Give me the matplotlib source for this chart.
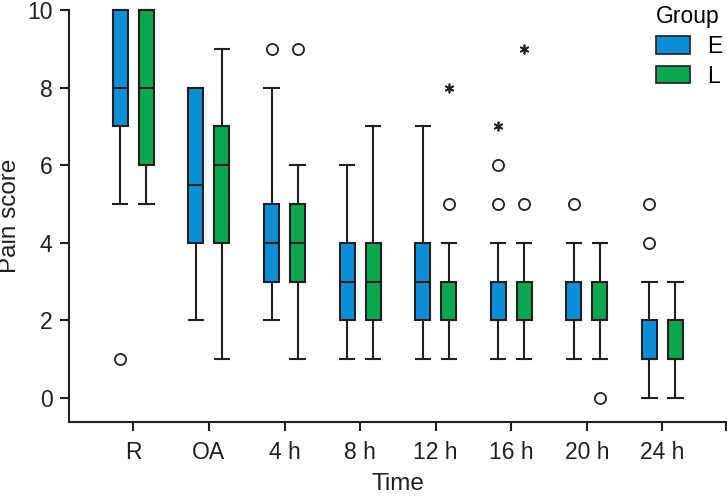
import matplotlib
matplotlib.use("Agg")
import matplotlib.pyplot as plt
from matplotlib.patches import Patch

plt.rcParams['font.family'] = ['Liberation Sans', 'DejaVu Sans']

times = ['R', 'OA', '4 h', '8 h', '12 h', '16 h', '20 h', '24 h']

# group E
e_low = [5, 2, 2, 1, 1, 1, 1, 0]
e_q1 = [7, 4, 3, 2, 2, 2, 2, 1]
e_med = [8, 5.5, 4, 3, 3, 2, 2, 1]
e_q3 = [10, 8, 5, 4, 4, 3, 3, 2]
e_high = [10, 8, 8, 6, 7, 4, 4, 3]
e_out = [[1], [], [9], [], [], [5, 6], [5], [4, 5]]
e_ext = [[], [], [], [], [], [7], [], []]

# group L
l_low = [5, 1, 1, 1, 1, 1, 1, 0]
l_q1 = [6, 4, 3, 2, 2, 2, 2, 1]
l_med = [8, 6, 4, 3, 2, 2, 2, 1]
l_q3 = [10, 7, 5, 4, 3, 3, 3, 2]
l_high = [10, 9, 6, 7, 4, 4, 4, 3]
l_out = [[], [], [9], [], [5], [5], [0], []]
l_ext = [[], [], [], [], [8], [9], [], []]

groups = ['E', 'L']
colors = ['#0a8fd6', '#0aa650']
dark = '#231f20'
fs = 16.5

fig = plt.figure(figsize=(7.27, 4.97), dpi=100)
ax = fig.add_axes([0.095, 0.151, 0.9036, 0.829])


def stats(lo, q1, med, q3, hi, out):
    return [dict(whislo=a, q1=b, med=c, q3=d, whishi=e, fliers=f)
            for a, b, c, d, e, f in zip(lo, q1, med, q3, hi, out)]


pos = list(range(1, len(times) + 1))
sets = [
    (stats(e_low, e_q1, e_med, e_q3, e_high, e_out), e_ext, -0.172),
    (stats(l_low, l_q1, l_med, l_q3, l_high, l_out), l_ext, 0.172),
]
for (st, ext, off), col in zip(sets, colors):
    p = [x + off for x in pos]
    ax.bxp(st, positions=p, widths=0.2, patch_artist=True,
           capwidths=0.19,
           boxprops=dict(facecolor=col, edgecolor=dark, linewidth=1.5),
           medianprops=dict(color=dark, linewidth=1.5),
           whiskerprops=dict(color=dark, linewidth=1.5),
           capprops=dict(color=dark, linewidth=1.5),
           flierprops=dict(marker='o', markerfacecolor='white',
                           markeredgecolor=dark, markersize=8,
                           markeredgewidth=1.3),
           manage_ticks=False)
    # extreme values drawn as asterisks
    for x, vals in zip(p, ext):
        ax.plot([x] * len(vals), vals, linestyle='none', marker=(6, 2, 0),
                markersize=7, markeredgewidth=1.2, color=dark)

for a in ax.get_children():
    try:
        a.set_clip_on(False)
    except Exception:
        pass

ax.set_xlim(0.15, 8.84)
ax.set_ylim(-0.62, 10)
ax.set_xticks(pos + [8.84])
ax.set_xticklabels(times + [''])
ax.set_yticks([0, 2, 4, 6, 8, 10])
ax.spines['top'].set_visible(False)
ax.spines['right'].set_visible(False)
for s in ['left', 'bottom']:
    ax.spines[s].set_color(dark)
    ax.spines[s].set_linewidth(1.5)
ax.tick_params(axis='both', direction='out', length=6.5, width=1.5,
               color=dark, labelsize=fs, labelcolor=dark)
ax.tick_params(axis='y', pad=5.5)
ax.tick_params(axis='x', pad=7.5)
ax.set_xlabel('Time', fontsize=17.5, color=dark, labelpad=6)
ax.set_ylabel('Pain score', fontsize=17.5, color=dark, labelpad=4.5)

handles = [Patch(facecolor=c, edgecolor=dark, linewidth=1.2, label=g)
           for g, c in zip(groups, colors)]
leg = fig.legend(handles=handles, title='Group', loc='upper left',
                 bbox_to_anchor=(0.902, 0.99), frameon=False, fontsize=fs,
                 title_fontsize=fs, handlelength=1.48, handleheight=0.79,
                 labelspacing=0.3, handletextpad=0.74, borderpad=0,
                 borderaxespad=0)
leg._legend_box.align = 'left'

fig.savefig('out.png', dpi=100)
